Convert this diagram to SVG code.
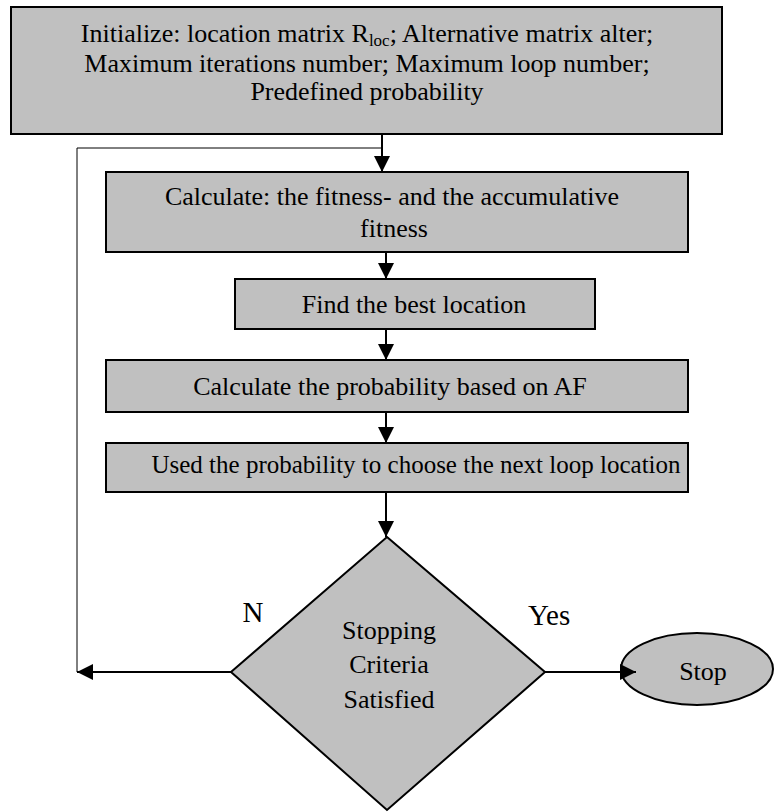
<svg xmlns="http://www.w3.org/2000/svg" width="774" height="812" viewBox="0 0 774 812">
<style>
.box{fill:#c0c0c0;stroke:#000;stroke-width:2}
.t{font-family:'Liberation Serif','Times New Roman',Tinos,Times,'DejaVu Serif',serif;font-size:26px;fill:#000}
.lbl{font-family:'Liberation Serif','Times New Roman',Tinos,Times,'DejaVu Serif',serif;font-size:29px;fill:#000}
.c{stroke:#000;stroke-width:2;fill:none}
.thin{stroke:#000;stroke-width:1;fill:none}
</style>
<defs>
<marker id="ah" markerUnits="userSpaceOnUse" markerWidth="16" markerHeight="16" refX="16" refY="8" orient="auto">
<path d="M0,0 L16,8 L0,16 z" fill="#000"/>
</marker>
</defs>
<rect width="774" height="812" fill="#fff"/>
<g id="init">
<rect class="box" x="11" y="7" width="711" height="127"/>
<text class="t" text-anchor="middle" x="367" y="42">Initialize: location matrix R<tspan font-size="17" dy="4">loc</tspan><tspan dy="-4">; Alternative matrix alter;</tspan></text>
<text class="t" text-anchor="middle" x="367" y="72">Maximum iterations number; Maximum loop number;</text>
<text class="t" text-anchor="middle" x="367" y="100">Predefined probability</text>
</g>
<g id="calc">
<rect class="box" x="106" y="172" width="582" height="80"/>
<text class="t" text-anchor="middle" x="392" y="205">Calculate: the fitness- and the accumulative</text>
<text class="t" text-anchor="middle" x="394" y="237">fitness</text>
</g>
<g id="best">
<rect class="box" x="235" y="279" width="360" height="50"/>
<text class="t" text-anchor="middle" x="414" y="313">Find the best location</text>
</g>
<g id="prob">
<rect class="box" x="106" y="360" width="582" height="52"/>
<text class="t" text-anchor="middle" x="390" y="395">Calculate the probability based on AF</text>
</g>
<g id="used">
<rect class="box" x="106" y="443" width="582" height="49"/>
<text class="t" text-anchor="middle" x="416" y="473" style="font-size:25px">Used the probability to choose the next loop location</text>
</g>
<g id="decision">
<polygon class="box" points="387,537 545,672 387,810 231,672"/>
<text class="t" text-anchor="middle" x="389" y="639">Stopping</text>
<text class="t" text-anchor="middle" x="389" y="673">Criteria</text>
<text class="t" text-anchor="middle" x="389" y="708">Satisfied</text>
</g>
<g id="stop">
<ellipse class="box" cx="697" cy="669" rx="76" ry="36"/>
<text class="t" text-anchor="middle" x="703" y="680">Stop</text>
</g>
<g id="connectors">
<polyline class="thin" points="77,672 77,148 382,148"/>
<line class="c" x1="382" y1="134" x2="382" y2="172" marker-end="url(#ah)"/>
<line class="c" x1="386" y1="252" x2="386" y2="279" marker-end="url(#ah)"/>
<line class="c" x1="386" y1="329" x2="386" y2="360" marker-end="url(#ah)"/>
<line class="c" x1="386" y1="412" x2="386" y2="443" marker-end="url(#ah)"/>
<line class="c" x1="386" y1="492" x2="386" y2="537" marker-end="url(#ah)"/>
<line class="c" x1="231" y1="672" x2="77" y2="672" marker-end="url(#ah)"/>
<line class="c" x1="545" y1="672" x2="636" y2="672" marker-end="url(#ah)"/>
<text class="lbl" text-anchor="middle" x="253" y="622">N</text>
<text class="lbl" x="528" y="625">Yes</text>
</g>
</svg>
